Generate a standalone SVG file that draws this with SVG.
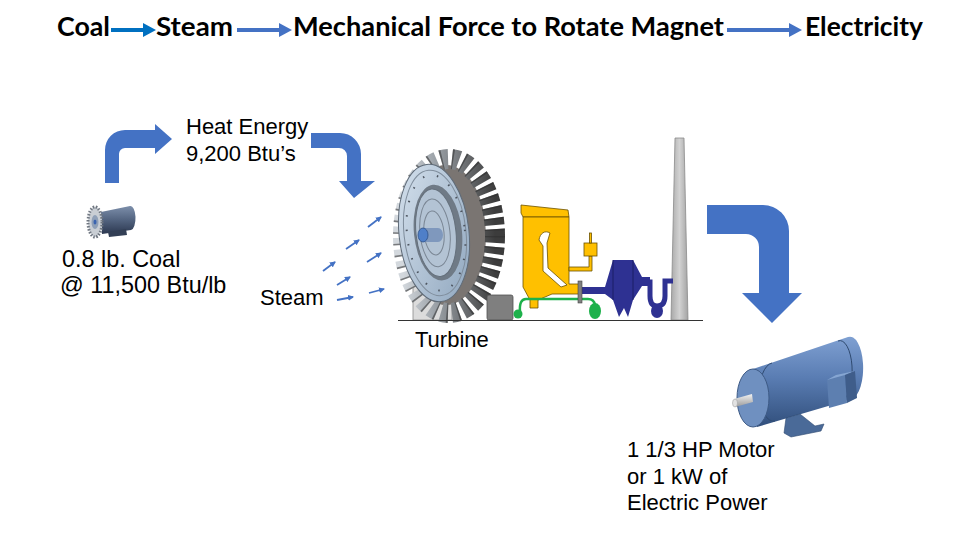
<svg xmlns="http://www.w3.org/2000/svg" width="980" height="559" viewBox="0 0 980 559">
<defs>
<style>
.t{font-family:"Liberation Sans",Arial,sans-serif;font-size:22px;fill:#000}
.h{font-family:Lato,"Liberation Sans",Arial,sans-serif;font-weight:700;font-size:26px;fill:#000}
.blue{fill:#4472C4}
.sa{stroke:#4472C4;stroke-width:1.8;fill:none;marker-end:url(#sh)}
.yl{fill:#FFC000;stroke:#6b5200;stroke-width:0.8}
.nv{fill:#2E3192}
.gr{fill:#1DB14B}
</style>
<marker id="sh" markerWidth="6" markerHeight="6" refX="5" refY="3" orient="auto" markerUnits="userSpaceOnUse">
<path d="M0,0 L6,3 L0,6 Z" fill="#4472C4"/>
</marker>
<linearGradient id="bladeGrad" x1="0" y1="0" x2="1" y2="0">
<stop offset="0" stop-color="#d3d8dd"/><stop offset="0.35" stop-color="#9ca2a8"/><stop offset="1" stop-color="#3c3c3c"/>
</linearGradient>
<linearGradient id="discGrad" x1="0" y1="0" x2="1" y2="1">
<stop offset="0" stop-color="#d6e2ee"/><stop offset="1" stop-color="#8ea5bd"/>
</linearGradient>
<linearGradient id="motorBody" x1="0" y1="0" x2="0" y2="1">
<stop offset="0" stop-color="#7fa0d2"/><stop offset="0.45" stop-color="#5a7db3"/><stop offset="1" stop-color="#314f7c"/>
</linearGradient>
<linearGradient id="smallBody" x1="0" y1="0" x2="0" y2="1">
<stop offset="0" stop-color="#7d8fab"/><stop offset="0.5" stop-color="#52637f"/><stop offset="1" stop-color="#2c3850"/>
</linearGradient>
<linearGradient id="shaftGrad" x1="0" y1="0" x2="0" y2="1">
<stop offset="0" stop-color="#f2f2f2"/><stop offset="1" stop-color="#9a9a9a"/>
</linearGradient>
<linearGradient id="stackGrad" x1="0" y1="0" x2="1" y2="0">
<stop offset="0" stop-color="#a9a9a9"/><stop offset="0.5" stop-color="#d2d2d2"/><stop offset="1" stop-color="#a3a3a3"/>
</linearGradient>
</defs>

<g id="title">
<text class="h" x="57" y="36" textLength="53" lengthAdjust="spacingAndGlyphs">Coal</text>
<text class="h" x="156" y="36" textLength="77" lengthAdjust="spacingAndGlyphs">Steam</text>
<text class="h" x="293" y="36" textLength="431" lengthAdjust="spacingAndGlyphs">Mechanical Force to Rotate Magnet</text>
<text class="h" x="805" y="36" textLength="118" lengthAdjust="spacingAndGlyphs">Electricity</text>
</g>

<g id="connectors">
<path d="M111,28 L143,28 L143,23 L156,30 L143,37 L143,32 L111,32 Z" fill="#0070C0"/>
<path class="blue" d="M237,28 L279,28 L279,23 L292,30 L279,37 L279,32 L237,32 Z"/>
<path class="blue" d="M727,28 L789,28 L789,23 L802,30 L789,37 L789,32 L727,32 Z"/>
<path class="blue" d="M105,183 L105,150 A20,20 0 0 1 125,130 L155,130 L155,124 L172,139 L155,154 L155,148 L125,148 A6,6 0 0 0 119,154 L119,183 Z"/>
<path class="blue" d="M311,133 L340,133 A21,21 0 0 1 361,154 L361,181 L375,181 L354,198 L339,181 L347,181 L347,156 A8,8 0 0 0 339,148 L311,148 Z"/>
<path class="blue" d="M707,205 L763,205 A26,26 0 0 1 789,231 L789,293 L802,293 L772,323 L742,293 L759,293 L759,247 A13,13 0 0 0 746,234 L707,234 Z"/>
</g>

<g id="steam">
<line class="sa" x1="368" y1="227" x2="381" y2="217"/>
<line class="sa" x1="346" y1="249" x2="359" y2="240"/>
<line class="sa" x1="323" y1="271" x2="335" y2="262"/>
<line class="sa" x1="367" y1="262" x2="381" y2="253"/>
<line class="sa" x1="337" y1="285" x2="350" y2="277"/>
<line class="sa" x1="337" y1="300" x2="353" y2="297"/>
<line class="sa" x1="369" y1="293" x2="384" y2="289"/>
<text class="t" x="260" y="305">Steam</text>
</g>

<g id="heat">
<text class="t" x="186" y="134">Heat Energy</text>
<text class="t" x="186" y="161">9,200 Btu’s</text>
</g>

<g id="coal">
<path d="M101,212 L130,206 A5,12 0 0 1 131,230 L102,234 Z" fill="url(#smallBody)"/>
<path d="M108,232 L126,229 L127,235 L109,237 Z" fill="#333f55"/>
<ellipse cx="95" cy="222" rx="7" ry="15" fill="#c9ced4" stroke="#6f7680" stroke-width="3" stroke-dasharray="1.5 1.5"/>
<ellipse cx="95" cy="222" rx="3.5" ry="7" fill="#8fa0b8"/>
<ellipse cx="95" cy="222" rx="1.5" ry="2.5" fill="#3b64b0"/>
<text class="t" x="62" y="267" style="font-size:23.4px">0.8 lb. Coal</text>
<text class="t" x="60" y="293" style="font-size:23.4px">@ 11,500 Btu/lb</text>
</g>

<g id="turbine">
<rect x="413" y="282" width="39" height="38" fill="#dcdcdc" stroke="#8a8a8a" stroke-width="0.8"/>
<ellipse cx="446" cy="235" rx="40" ry="70" fill="#7a7572"/>
<ellipse cx="449" cy="236" rx="46" ry="77" fill="none" stroke="url(#bladeGrad)" stroke-width="20" stroke-dasharray="7 4"/>
<ellipse cx="449" cy="236" rx="46" ry="77" fill="none" stroke="#2e2e2e" stroke-opacity="0.55" stroke-width="20" stroke-dasharray="1.5 9.5"/>
<g transform="rotate(-6 434 233)">
<ellipse cx="434" cy="233" rx="35" ry="69" fill="url(#discGrad)" stroke="#5f6b78" stroke-width="1"/>
<ellipse cx="435" cy="233" rx="31" ry="63" fill="none" stroke="#7f8d9c" stroke-width="1"/>
<ellipse cx="436" cy="233" rx="29" ry="58" fill="none" stroke="#4d5560" stroke-width="2" stroke-dasharray="1.5 13"/>
<ellipse cx="438" cy="233" rx="24" ry="48" fill="#6f7a86"/>
<ellipse cx="436" cy="233" rx="20" ry="44" fill="#b3c3d4" stroke="#65707c" stroke-width="1"/>
<ellipse cx="435" cy="233" rx="15" ry="34" fill="none" stroke="#7a8694" stroke-width="1"/>
<ellipse cx="434" cy="233" rx="10" ry="22" fill="none" stroke="#7a8694" stroke-width="1"/>
</g>
<path d="M423,228 L438,228 A5,7 0 0 1 438,242 L423,242 Z" fill="#7f98bd"/>
<ellipse cx="423" cy="235" rx="5" ry="7" fill="#4f7fc8" stroke="#2c4f86" stroke-width="0.8"/>
<text class="t" x="415" y="347">Turbine</text>
</g>

<g id="plant">
<rect x="487" y="295" width="26" height="25" rx="2" fill="#7f7f7f" stroke="#505050" stroke-width="0.8"/>
<polygon points="675,138 684,138 688,320 671,320" fill="url(#stackGrad)" stroke="#8a8a8a" stroke-width="0.8"/>
<path class="yl" d="M521,205 L568,210 L569,217 L523,217 L521,213 Z"/>
<path class="yl" d="M523,217 L569,217 L569,284 L579,284 L579,294 L552,294 L538,300 L538,308 L530,308 L530,300 L523,287 Z"/>
<path d="M539,240 C540,233 545,230 550,233 L547,243 L548,268 L567,285 L561,287 L543,271 L543,246 Z" fill="#fff" stroke="#6b5200" stroke-width="0.8"/>
<path class="yl" d="M569,267 L589,267 L589,256 L592,256 L592,271 L569,271 Z"/>
<rect class="yl" x="584" y="243" width="13" height="13"/>
<rect class="yl" x="589.5" y="233" width="2" height="10"/>
<path d="M520,312 Q519,299 526,299 L588,299 Q594,299 595,305" fill="none" stroke="#1DB14B" stroke-width="2.5"/>
<circle class="gr" cx="518" cy="314" r="4.5"/>
<ellipse class="gr" cx="595" cy="311" rx="6" ry="8"/>
<rect class="nv" x="582" y="287" width="24" height="7"/>
<path class="nv" d="M605,287 L613,260 L633,260 L642,277 L650,277 L650,286 L642,286 L633,300 L628,317 L624,308 L619,317 L613,300 L605,294 Z"/>
<line x1="613" y1="260" x2="613" y2="300" stroke="#161a5c" stroke-width="0.8"/>
<line x1="633" y1="260" x2="633" y2="300" stroke="#161a5c" stroke-width="0.8"/>
<path d="M642,282 L650,282 L650,296 Q650,306 657,306 Q665,306 665,296 L665,281 L673,281" fill="none" stroke="#2E3192" stroke-width="5"/>
<ellipse class="nv" cx="657" cy="311" rx="6" ry="7"/>
<rect x="578" y="281" width="4" height="22" fill="#808080" stroke="#444" stroke-width="0.6"/>
<line x1="398" y1="320.5" x2="703" y2="320.5" stroke="#333" stroke-width="1.2"/>
</g>

<g id="motor">
<path d="M753,369 L848,337 A13,31 0 0 1 852,399 L757,427 Z" fill="url(#motorBody)"/>
<path d="M838,341 A12,30 0 0 1 842,401" fill="none" stroke="#2f4a70" stroke-width="1"/>
<path d="M772,363 A14,29 0 0 0 775,421" fill="none" stroke="#2f4a70" stroke-width="1"/>
<path d="M786,418 L800,414 L815,426 L824,424 L821,431 L791,437 L784,433 Z" fill="#4a6a98" stroke="#2f4a70" stroke-width="0.6"/>
<ellipse cx="753" cy="398" rx="16" ry="29" fill="#6f90c0" stroke="#3d5a85" stroke-width="1"/>
<polygon points="734,399 752,394 753,402 735,407" fill="url(#shaftGrad)"/>
<ellipse cx="735" cy="403" rx="2.5" ry="4" fill="#e2e2e2" stroke="#999" stroke-width="0.5"/>
<polygon points="827,380 845,375 847,403 829,408" fill="#5d7fb0"/>
<polygon points="827,380 836,375 855,371 845,375" fill="#86a6d2"/>
<polygon points="845,375 855,371 857,398 847,403" fill="#3f5d8a"/>
<text class="t" x="627" y="457">1 1/3 HP Motor</text>
<text class="t" x="627" y="484">or 1 kW of</text>
<text class="t" x="627" y="510">Electric Power</text>
</g>
</svg>
